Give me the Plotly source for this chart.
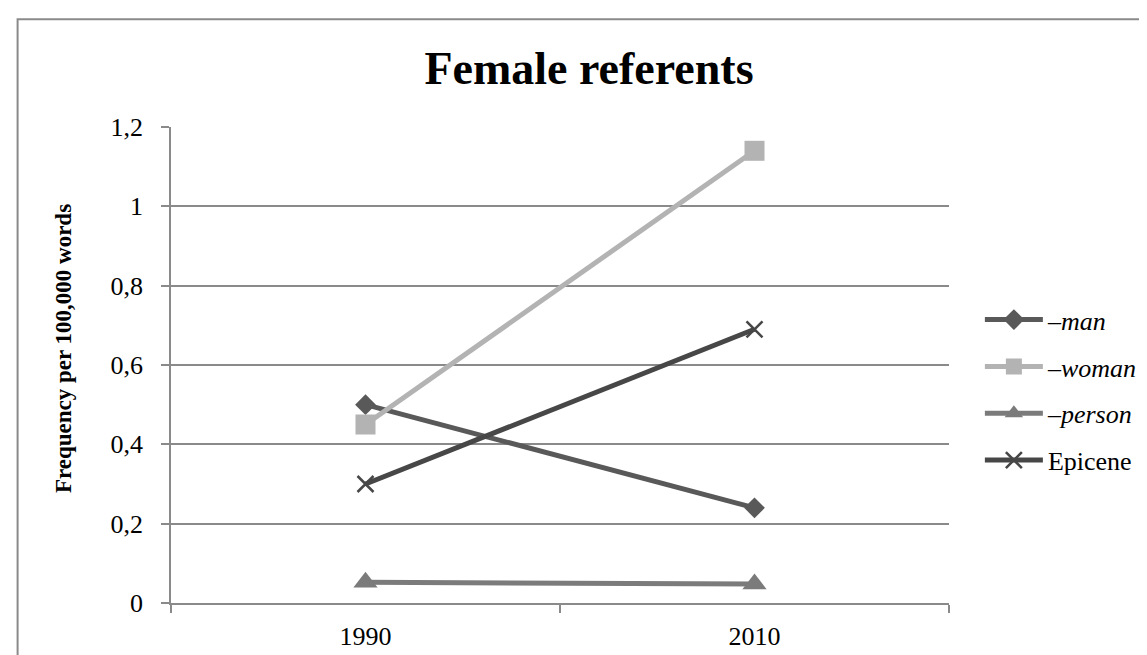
import plotly.graph_objects as go

years = ["1990", "2010"]
man = [0.50, 0.24]
woman = [0.45, 1.14]
person = [0.052, 0.048]
epicene = [0.30, 0.69]

names = ["<i>–man</i>", "<i>–woman</i>", "<i>–person</i>", "Epicene"]
series = [man, woman, person, epicene]
colors = ["#595959", "#b3b3b3", "#7b7b7b", "#474747"]
symbols = ["diamond", "square", "triangle-up", "x-thin"]
sizes = [16, 20, 21, 16]

W, H = 1147, 655
L, R, T, B = 163, 944, 119, 600

fig = go.Figure()
for i, (nm, s, c, sym, sz) in enumerate(zip(names, series, colors, symbols, sizes)):
    marker = dict(symbol=sym, size=sz, color=c)
    if sym == "x-thin":
        marker["line"] = dict(color=c, width=2.5)
    fig.add_trace(go.Scatter(
        x=years, y=s, name=nm, mode="lines+markers",
        line=dict(color=c, width=5), marker=marker,
        legendgroup=f"g{i}",
    ))

grid = "#8a8a8a"
fig.update_layout(
    width=W, height=H,
    paper_bgcolor="white", plot_bgcolor="white",
    margin=dict(l=L, r=W - R, t=T, b=H - B),
    font=dict(family="Liberation Serif, Times New Roman, serif", color="black", size=26),
    title=dict(text="<b>Female referents</b>", x=581 / W, xanchor="center",
               y=1 - 60 / H, yanchor="middle",
               font=dict(size=46, family="Liberation Serif", color="black")),
    xaxis=dict(type="category", range=[-0.5, 1.5], tickson="boundaries",
               showline=True, linecolor=grid, linewidth=1.5,
               ticks="outside", ticklen=8, tickcolor=grid, tickwidth=1.5,
               showgrid=False, ticklabelstandoff=9,
               tickfont=dict(size=26)),
    yaxis=dict(range=[0, 1.2], tickvals=[0, 0.2, 0.4, 0.6, 0.8, 1.0, 1.2],
               ticktext=["0", "0,2", "0,4", "0,6", "0,8", "1", "1,2"],
               showline=True, linecolor=grid, linewidth=1.5,
               ticks="outside", ticklen=8, tickcolor=grid, tickwidth=1.5,
               showgrid=True, gridcolor=grid, gridwidth=1.5,
               zeroline=False, ticklabelstandoff=13,
               tickfont=dict(size=26)),
    legend=dict(x=(975 - L) / (R - L), xanchor="left",
                y=(B - 290) / (B - T), yanchor="top",
                font=dict(size=26), tracegroupgap=10,
                itemwidth=58, bgcolor="rgba(0,0,0,0)"),
    showlegend=True,
    annotations=[dict(text="<b>Frequency per 100,000 words</b>", textangle=-90,
                      xref="paper", yref="paper",
                      x=(55 - L) / (R - L), y=(B - 343) / (B - T),
                      xanchor="center", yanchor="middle", showarrow=False,
                      font=dict(size=23, family="Liberation Serif", color="black"))],
    shapes=[dict(type="rect", xref="paper", yref="paper",
                 x0=(9 - L) / (R - L), x1=(1160 - L) / (R - L),
                 y0=(B - 670) / (B - T), y1=(B - 10) / (B - T),
                 line=dict(color="#8a8a8a", width=2), layer="below")],
)

fig.write_html("out.html")
